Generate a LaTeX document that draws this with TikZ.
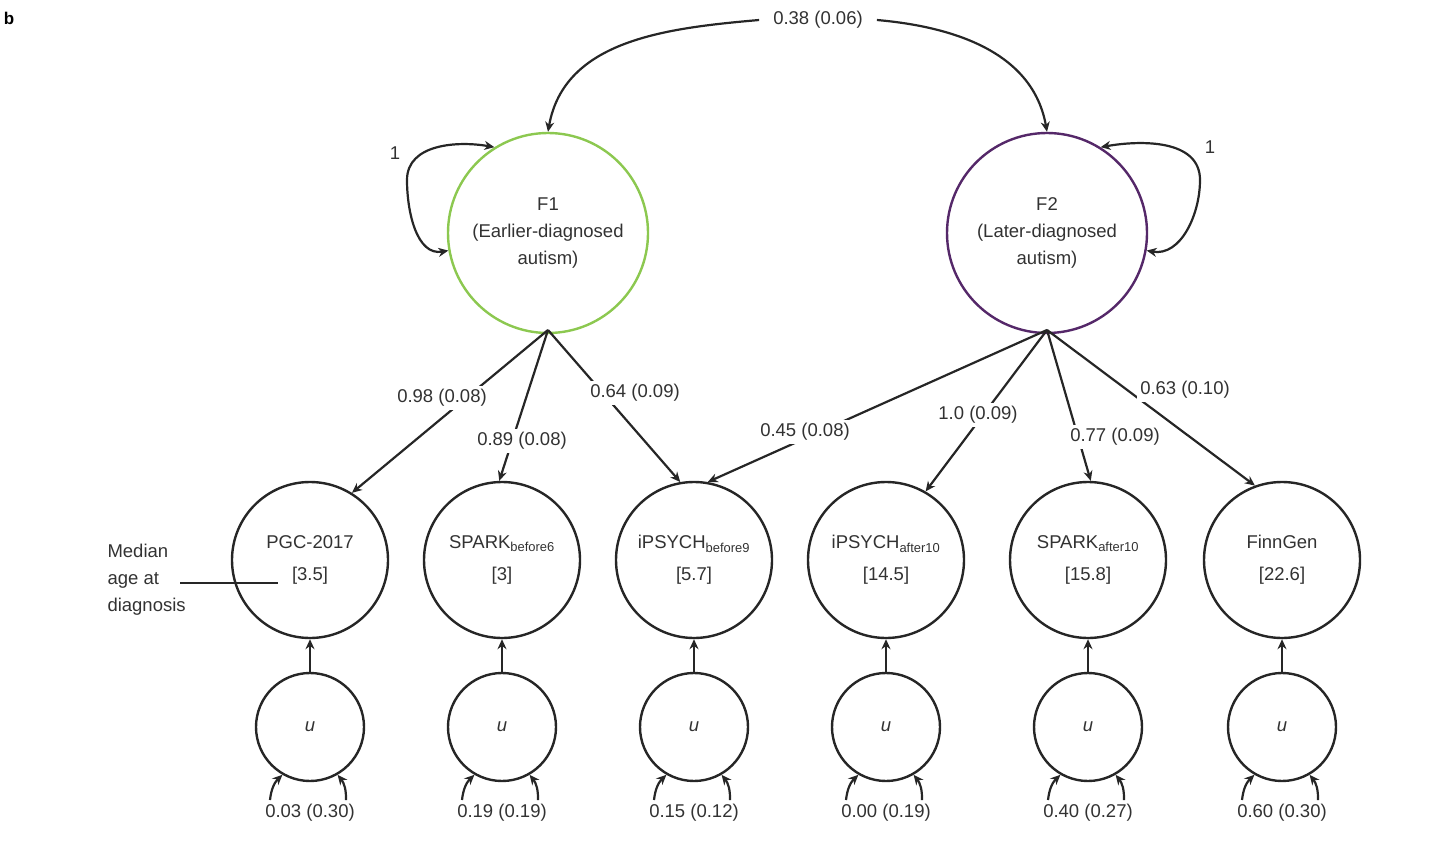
\documentclass[tikz,border=0pt]{standalone}
\usepackage{fontspec}
\setmainfont{Liberation Sans}
\usetikzlibrary{arrows.meta}
\definecolor{fgreen}{RGB}{140,200,80}
\definecolor{fpurple}{RGB}{85,40,105}
\definecolor{tx}{RGB}{50,50,50}
\begin{document}
\begin{tikzpicture}[x=1pt,y=-1pt,
 every node/.style={font=\fontsize{18.5}{27}\selectfont,text=tx},
 factor/.style={circle,line width=2.4pt,minimum size=200pt,align=center,inner sep=0},
 ind/.style={circle,draw=black!85,line width=2.4pt,minimum size=156pt,align=center,inner sep=0,font=\fontsize{18.5}{32}\selectfont},
 unode/.style={circle,draw=black!85,line width=2.4pt,minimum size=108pt,inner sep=0},
 arr/.style={line width=2.2pt,draw=black!85,-{Stealth[length=10pt,width=9pt]}},
 lab/.style={fill=white,inner sep=3pt}]
\useasboundingbox (0,0) rectangle (1440,843);
\node[font=\bfseries\fontsize{17}{18}\selectfont,text=black] (b) at (9,18) {b};
\node[factor,draw=fgreen] (F1) at (548,233) {F1\\(Earlier-diagnosed\\autism)};
\node[factor,draw=fpurple] (F2) at (1047,233) {F2\\(Later-diagnosed\\autism)};
\node[lab,inner xsep=14pt] (cov) at (818,20) {0.38 (0.06)};
\draw[arr] (cov.west) to[out=185,in=80] (F1.north);
\draw[arr] (cov.east) to[out=-5,in=100] (F2.north);
\draw[arr,{Stealth[length=10pt,width=9pt]}-{Stealth[length=10pt,width=9pt]}] (F1.122) to[out=170,in=90] (407,180) to[out=270,in=190] (F1.190);
\node (l1) at (395,153) {1};
\draw[arr,{Stealth[length=10pt,width=9pt]}-{Stealth[length=10pt,width=9pt]}] (F2.58) to[out=10,in=90] (1200,180) to[out=270,in=-10] (F2.-10);
\node (l2) at (1210,147) {1};
\foreach \n/\x/\t in {a/310/{PGC-2017\\{}[3.5]},b/502/{SPARK\textsubscript{before6}\\{}[3]},c/694/{iPSYCH\textsubscript{before9}\\{}[5.7]},d/886/{iPSYCH\textsubscript{after10}\\{}[14.5]},e/1088/{SPARK\textsubscript{after10}\\{}[15.8]},f/1282/{FinnGen\\{}[22.6]}}{
 \node[ind] (I\n) at (\x,560) {\t};
 \node[unode] (U\n) at (\x,727) {\itshape u};
 \draw[arr] (U\n) -- (I\n);
 \coordinate (bl\n) at (\x-40,800);
 \coordinate (br\n) at (\x+36,800);
 \draw[arr] (bl\n) to[bend left=20] (U\n.240);
 \draw[arr] (br\n) to[bend right=20] (U\n.-60);
}
\foreach \n/\x/\t in {a/310/0.03 (0.30),b/502/0.19 (0.19),c/694/0.15 (0.12),d/886/0.00 (0.19),e/1088/0.40 (0.27),f/1282/0.60 (0.30)}{
 \node (v\n) at (\x,813) {\t};
}
\coordinate (F1b) at (548,330);
\coordinate (F2b) at (1047,330);
\draw[arr] (F1b) -- (Ia.58);
\draw[arr] (F1b) -- (Ib.92);
\draw[arr] (F1b) -- (Ic.100);
\draw[arr] (F2b) -- (Ic.80);
\draw[arr] (F2b) -- (Id.60);
\draw[arr] (F2b) -- (Ie.88);
\draw[arr] (F2b) -- (If.110);
\node[lab] (L1) at (442,398) {0.98 (0.08)};
\node[lab] (L2) at (522,441) {0.89 (0.08)};
\node[lab] (L3) at (635,393) {0.64 (0.09)};
\node[lab] (L4) at (805,432) {0.45 (0.08)};
\node[lab] (L5) at (978,415) {1.0 (0.09)};
\node[lab] (L6) at (1115,437) {0.77 (0.09)};
\node[lab] (L7) at (1185,390) {0.63 (0.10)};
\node[align=left,anchor=west,font=\fontsize{18.5}{27}\selectfont] (med) at (104,580) {Median\\age at\\diagnosis};
\coordinate (medend) at (278,583);
\draw[line width=1.4pt,black!85] (180,583) -- (medend);
\end{tikzpicture}
\end{document}
